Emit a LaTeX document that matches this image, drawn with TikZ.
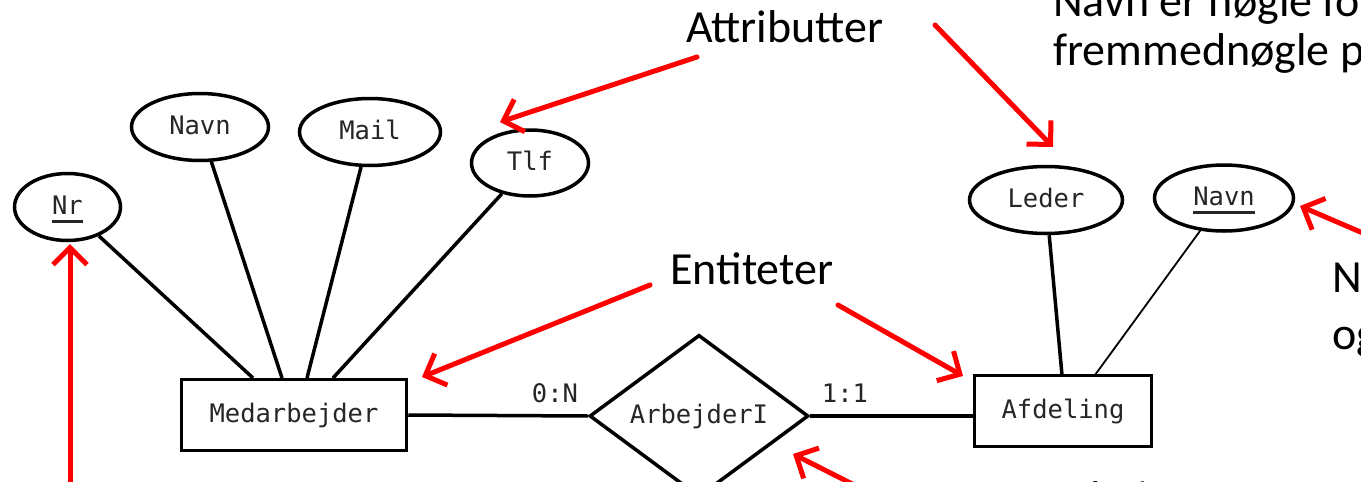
\documentclass[tikz,border=0pt]{standalone}
\usepackage{fontspec}
\usetikzlibrary{shapes.geometric,arrows.meta}
\newfontfamily\erfamily{DejaVu Sans Mono}
\newfontfamily\notefamily{Carlito}
\newcommand\erfont{\erfamily\fontsize{25.5}{30}\selectfont}
\newcommand\notefont{\notefamily\fontsize{46}{56}\selectfont}
\newcommand\keyul[1]{\setbox0\hbox{#1}\rlap{\smash{\rule[-9pt]{\wd0}{3pt}}}\box0}
\tikzset{
  erbase/.style={draw=black, line width=3.5pt, inner sep=0pt, font=\erfont, text=black!85, text height=19pt, text depth=5pt},
  attr/.style={erbase, ellipse},
  ent/.style={erbase, rectangle},
  rel/.style={erbase, diamond},
  card/.style={font=\erfont, text=black!85, inner sep=0pt, text height=19pt, text depth=5pt},
  conn/.style={line width=3.5pt},
  thinconn/.style={line width=1.8pt},
  note/.style={font=\notefont, anchor=base west, inner sep=0pt, text=black},
  redarrow/.style={red, line width=5pt, line cap=round, -{Straight Barb[length=17pt,width=34pt]}}
}
\begin{document}
\begin{tikzpicture}[x=1pt,y=-1pt]
\useasboundingbox (0,0) rectangle (1361,482);
\clip (0,0) rectangle (1361,482);
\fill[white] (0,0) rectangle (1361,482);

% attributes
\node[attr, minimum width=106, minimum height=67] (nr) at (67.5,207) {\keyul{Nr}};
\node[attr, minimum width=137, minimum height=67] (navn) at (200,127) {Navn};
\node[attr, minimum width=141, minimum height=67] (mail) at (370,132) {Mail};
\node[attr, minimum width=117, minimum height=66] (tlf) at (530,163) {Tlf};
\node[attr, minimum width=153, minimum height=67] (leder) at (1046,200) {Leder};
\node[attr, minimum width=139, minimum height=66] (navnr) at (1224,198) {\keyul{Navn}};

% entities and relation
\node[ent, minimum width=225, minimum height=71] (med) at (294,415) {Medarbejder};
\node[ent, minimum width=177, minimum height=71] (afd) at (1063,411) {Afdeling};
\node[rel, minimum width=219, minimum height=135] (arb) at (699,416) {ArbejderI};

% cardinalities
\node[card] (c0n) at (555,395) {0:N};
\node[card] (c11) at (845,395) {1:1};

% attachment points
\coordinate (m1) at (253,378);
\coordinate (m2) at (282,378);
\coordinate (m3) at (307,378);
\coordinate (m4) at (333,378);
\coordinate (a1) at (1062,375);
\coordinate (a2) at (1095,375);

\draw[conn] (nr) -- (m1);
\draw[conn] (navn) -- (m2);
\draw[conn] (mail) -- (m3);
\draw[conn] (tlf) -- (m4);
\draw[conn] (leder) -- (a1);
\draw[thinconn] (navnr) -- (a2);
\draw[conn] (med.east) -- (arb.west);
\draw[conn] (arb.east) -- (arb.east -| afd.west);

% annotation texts
\node[note] (tattr) at (686,42) {Attributter};
\node[note] (tent) at (670,284) {Entiteter};
\node[note] (tkey1) at (1053,16) {Navn er nøgle for};
\node[note] (tkey2) at (1053,65) {fremmednøgle på};
\node[note] (tn1) at (1332,292) {Nøgle};
\node[note] (tn2) at (1332,349) {og};
\node[note] (trel) at (1043,513) {Relation};

% red arrows
\coordinate (s1) at (697,57);   \coordinate (e1) at (500,122);
\coordinate (s2) at (935,25);   \coordinate (e2) at (1053,147);
\coordinate (s3) at (650,285);  \coordinate (e3) at (422,377);
\coordinate (s4) at (838,305);  \coordinate (e4) at (963,376);
\coordinate (s5) at (880,498);  \coordinate (e5) at (793,454);
\coordinate (s6) at (70,520);   \coordinate (e6) at (70,244);
\coordinate (s7) at (1400,249); \coordinate (e7) at (1300,206);
\draw[redarrow] (s1) -- (e1);
\draw[redarrow] (s2) -- (e2);
\draw[redarrow] (s3) -- (e3);
\draw[redarrow] (s4) -- (e4);
\draw[redarrow] (s5) -- (e5);
\draw[redarrow] (s6) -- (e6);
\draw[redarrow] (s7) -- (e7);
\end{tikzpicture}
\end{document}
